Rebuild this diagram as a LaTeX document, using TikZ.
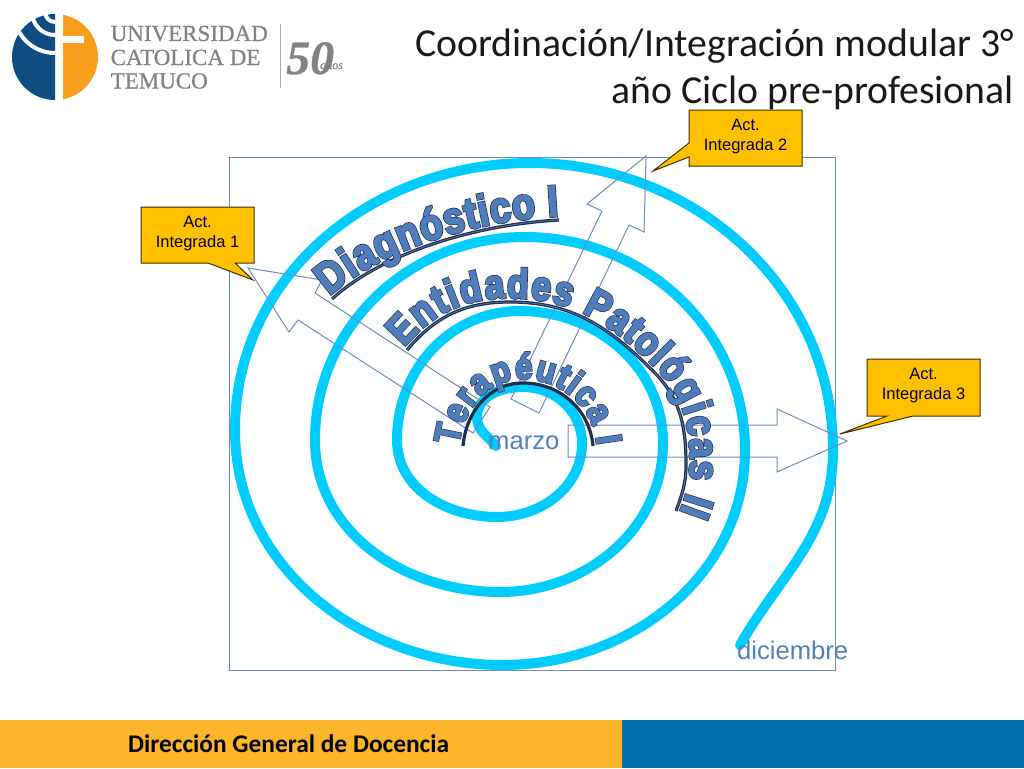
\documentclass[tikz,border=0pt]{standalone}
\usepackage{fontspec}
\usetikzlibrary{decorations.text}
\setmainfont{Liberation Sans}
\newfontfamily\carlito{Carlito}
\newfontfamily\lserif[FakeBold=0.6]{Liberation Serif}
\newfontfamily\waDark[FakeStretch=0.85,FakeBold=6.5]{Liberation Sans Bold}
\newfontfamily\waBlue[FakeStretch=0.85,FakeBold=3.5]{Liberation Sans Bold}
\definecolor{ucblue}{HTML}{0F4C81}
\definecolor{ucorange}{HTML}{F99D1C}
\definecolor{ucgray}{HTML}{808285}
\definecolor{linecol}{HTML}{6C8EBF}
\definecolor{spiralcol}{HTML}{00CCFF}
\definecolor{calloutfill}{HTML}{FFC000}
\definecolor{calloutline}{HTML}{3F3000}
\definecolor{wablue}{HTML}{4F7CBA}
\definecolor{wadark}{HTML}{1F2D4A}
\definecolor{labelblue}{HTML}{4F81BD}
\definecolor{footorange}{HTML}{FDB52A}
\definecolor{footblue}{HTML}{006FAF}
\tikzset{
  blockarrow/.style={draw=linecol,line width=1pt,line join=miter},
  calloutbox/.style={draw=calloutline,fill=calloutfill,line width=1pt,line join=miter},
  callouttext/.style={font=\fontsize{16.5}{20}\selectfont,align=center,text=black,inner sep=0pt},
  ucline/.style={font=\lserif\fontsize{23}{24}\selectfont,text=ucgray,inner sep=0pt,anchor=base west},
  month/.style={font=\fontsize{25.6}{28}\selectfont,text=labelblue,inner sep=0pt,anchor=base west},
  spiralline/.style={draw=spiralcol,line width=10pt,line cap=round,line join=round},
  waunder/.style={draw=wadark,line width=3.2pt,line cap=butt},
  wauinner/.style={draw=wablue,line width=0.7pt}
}
\newcommand{\wordart}[4]{% path, text, size, raise
  \path[decorate,decoration={text along path,text align={fit to path},raise=#4pt,
    text={|\waDark\fontsize{#3}{#3}\selectfont\color{wadark}|#2}}] #1;
  \path[decorate,decoration={text along path,text align={fit to path},raise=#4pt,
    text={|\waBlue\fontsize{#3}{#3}\selectfont\color{wablue}|#2}}] #1;
}
\begin{document}
\begin{tikzpicture}[x=1pt,y=-1pt]
\useasboundingbox (0,0) rectangle (1024,768);
\fill[white] (0,0) rectangle (1024,768);
% logo
\begin{scope}
  \clip (0,0) rectangle (55,110);
  \fill[ucblue] (55,57) circle[radius=43];
  \draw[white,line width=4pt] (55,12) circle[radius=10];
  \draw[white,line width=4pt] (55,12) circle[radius=23];
  \draw[white,line width=4pt] (55,12) circle[radius=41];
\end{scope}
\begin{scope}
  \clip (63,0) rectangle (110,110);
  \fill[ucorange] (55,57) circle[radius=43];
\end{scope}
\fill[white] (62,36) rectangle (84,43);
\node[ucline] (uc1) at (110.5,41) {UNIVERSIDAD};
\node[ucline] (uc2) at (110.5,65) {CATOLICA DE};
\node[ucline] (uc3) at (110.5,88.5) {TEMUCO};
\draw[ucgray!70,line width=0.8pt] (280,24) -- (280,88);
\node[font=\lserif\bfseries\itshape\fontsize{48}{48}\selectfont,text=ucgray,inner sep=0pt,anchor=base west] (fifty) at (286,74) {50};
\node[font=\lserif\itshape\fontsize{12}{12}\selectfont,text=ucgray,inner sep=0pt,anchor=base west] (anos) at (320,69) {años};
% title
\node[font=\carlito\fontsize{39.7}{47}\selectfont,align=right,anchor=north east,inner sep=0pt,text=black!90] (title) at (1014,28.5)
  {Coordinación/Integración modular 3°\\año Ciclo pre-profesional};
% frame
\draw[linecol,line width=1pt] (229,157) rectangle (835,670);
% spiral
\draw[spiralline] (496,446) to[out=130,in=-90] (477,417)
  to[out=90,in=180] (523,387)
  to[out=0,in=90] (582,443)
  to[out=-90,in=0] (497,517)
  to[out=180,in=-90] (397,440)
  to[out=90,in=180] (520,311)
  to[out=0,in=90] (663,443)
  to[out=-90,in=0] (500,592)
  to[out=180,in=-90] (315,440)
  to[out=90,in=180] (525,237)
  to[out=0,in=90] (745,450)
  to[out=-90,in=0] (503,665)
  to[out=180,in=-90] (235,430)
  to[out=90,in=180] (530,163)
  to[out=0,in=90] (833,450)
  to[out=-90,in=60] (740,645);
% block arrows
\draw[blockarrow] (511,399) -- (602,211) -- (587,204) -- (646,156) -- (644,232) -- (629,225) -- (539,413) -- cycle;
\draw[blockarrow] (490,407) -- (315,293) -- (322,280) -- (248,268) -- (289,332) -- (298,320) -- (473,433) -- cycle;
\draw[blockarrow] (568,425) -- (777,425) -- (777,409) -- (847,441) -- (777,472) -- (777,457) -- (568,457) -- cycle;
% callouts
\draw[calloutbox] (141,207) -- (254,207) -- (254,263) -- (235,263) -- (253,280) -- (208,263) -- (141,263) -- cycle;
\draw[calloutbox] (689,110) -- (802,110) -- (802,166) -- (689,166) -- (689,157) -- (653,171) -- (689,143) -- cycle;
\draw[calloutbox] (867,359) -- (980,359) -- (980,416) -- (913,416) -- (840,434) -- (887,416) -- (867,416) -- cycle;
\node[callouttext] (act1) at (197.5,233.5) {Act.\\Integrada 1};
\node[callouttext] (act2) at (745.5,136.5) {Act.\\Integrada 2};
\node[callouttext] (act3) at (923.5,386) {Act.\\Integrada 3};
% month labels
\node[month] (marzo) at (488,449) {marzo};
\node[month] (dic) at (737,659) {diciembre};
% word art
\def\pathA{(332,299) .. controls (380,255) and (470,225) .. (559,220)}
\draw[waunder] \pathA;
\draw[wauinner] \pathA;
\wordart{(332,299) .. controls (380,255) and (470,225) .. (559,220)}{Diagnóstico I}{44}{4}
\def\pathB{(407,350) to[out=50,in=180] (510,302) to[out=0,in=135] (653,371) to[out=-45,in=90] (686,465) to[out=-90,in=70] (676,511)}
\draw[waunder] \pathB;
\draw[wauinner] \pathB;
\wordart{(407,350) to[out=50,in=180] (510,302) to[out=0,in=135] (653,371) to[out=-45,in=90] (686,465) to[out=-90,in=70] (676,511)}{Entidades Patológicas II}{41.5}{4}
\def\pathC{(463,446) to[out=85,in=180] (523,383) to[out=0,in=95] (593,446)}
\draw[waunder] \pathC;
\wordart{(463,446) to[out=85,in=180] (523,383) to[out=0,in=95] (593,446)}{Terapéutica I}{36.5}{4}
% footer
\fill[footorange] (0,720) rectangle (622,768);
\fill[footblue] (622,720) rectangle (1024,768);
\node[font=\carlito\bfseries\fontsize{25.4}{26}\selectfont,text=black,inner sep=0pt,anchor=base west] (dgd) at (128,752) {Dirección General de Docencia};
\end{tikzpicture}
\end{document}
